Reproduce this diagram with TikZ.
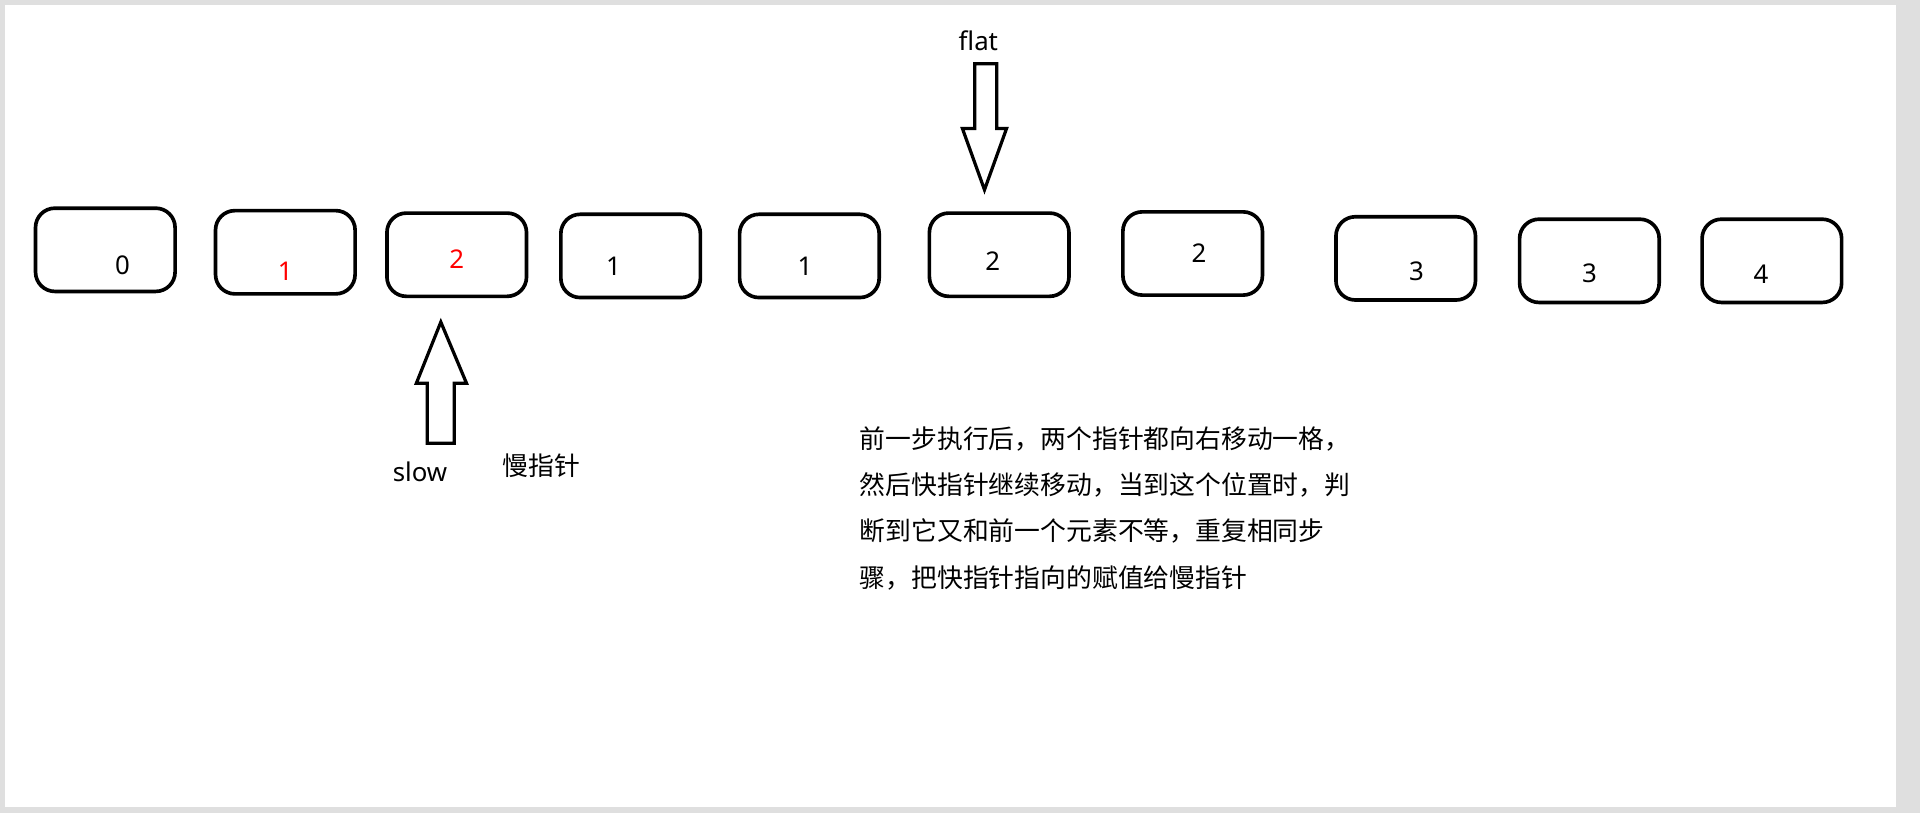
\documentclass[tikz,border=0pt]{standalone}
\usepackage{fontspec}
\setmainfont{Noto Sans}
\newfontfamily\cjk{Noto Sans CJK SC}
\begin{document}
\begin{tikzpicture}[x=0.02cm,y=-0.02cm,
  cell/.style={draw,line width=1.7pt,rounded corners=9pt,minimum width=2.28cm,minimum height=1.36cm,font=\fontsize{12}{14}\selectfont},
  arr/.style={draw,line width=1.5pt,fill=white},
  lbl/.style={font=\fontsize{12}{14}\selectfont}]
\fill[gray!25] (0,0) rectangle (1568,664);
\fill[white] (4,4) rectangle (1548,659);
\useasboundingbox (0,0) rectangle (1568,664);
\node[cell] (c0) at (86,204) {};
\node[cell] (c1) at (233,206) {};
\node[cell] (c2) at (373,208) {};
\node[cell] (c3) at (515,209) {};
\node[cell] (c4) at (661,209) {};
\node[cell] (c5) at (816,208) {};
\node[cell] (c6) at (974,207) {};
\node[cell] (c7) at (1148,211) {};
\node[cell] (c8) at (1298,213) {};
\node[cell] (c9) at (1447,213) {};
\node[lbl] at ([xshift=8,yshift=-7]c0.center) {0};
\node[lbl,text=red] at ([yshift=-9]c1.center) {1};
\node[lbl,text=red] at ([yshift=-2]c2.center) {2};
\node[lbl] at ([xshift=-8,yshift=-5]c3.center) {1};
\node[lbl] at ([xshift=-2,yshift=-5]c4.center) {1};
\node[lbl] at ([xshift=-3,yshift=-3]c5.center) {2};
\node[lbl] at ([xshift=3]c6.center) {2};
\node[lbl] at ([xshift=5,yshift=-6]c7.center) {3};
\node[lbl] at ([yshift=-6]c8.center) {3};
\node[lbl] at ([xshift=-5,yshift=-6]c9.center) {4};
\draw[arr] (796,52) -- (814,52) -- (814,105) -- (822,105) -- (804,155) -- (786,105) -- (796,105) -- cycle;
\draw[arr] (349,362) -- (371,362) -- (371,313) -- (381,313) -- (360,263) -- (340,313) -- (349,313) -- cycle;
\node[lbl] (flat) at (799,33) {flat};
\node[lbl] (slow) at (343,385) {slow};
\node[lbl] (slowcn) at (442,380) {\cjk 慢指针};
\node[anchor=west,align=left,font=\cjk\fontsize{12}{21.6}\selectfont] (desc) at (696,415) {前一步执行后，两个指针都向右移动一格，\\然后快指针继续移动，当到这个位置时，判\\断到它又和前一个元素不等，重复相同步\\骤，把快指针指向的赋值给慢指针};
\end{tikzpicture}
\end{document}
